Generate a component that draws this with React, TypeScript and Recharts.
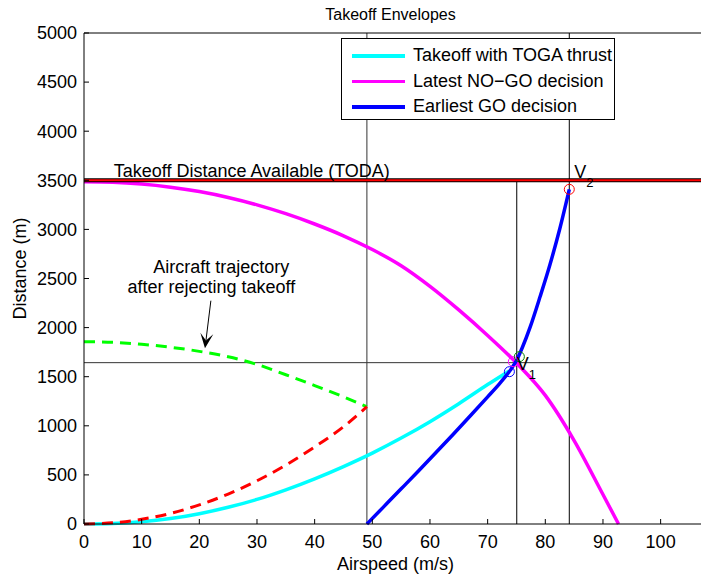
import { Legend, Line, LineChart, ReferenceDot, ReferenceLine, XAxis, YAxis } from "recharts"

// Takeoff envelopes: airspeed (m/s) vs. ground distance (m)

const xTicks = [0, 10, 20, 30, 40, 50, 60, 70, 80, 90, 100]
const yTicks = [0, 500, 1000, 1500, 2000, 2500, 3000, 3500, 4000, 4500, 5000]

// takeoff with full TOGA thrust
const togaSpeed = [0, 5, 10, 15, 20, 25, 30, 35, 40, 45, 50, 55, 60, 65, 70, 73.7]
const togaDist = [0, 5, 22, 55, 105, 170, 250, 348, 460, 585, 722, 875, 1042, 1225, 1420, 1558]

// latest point where a rejected takeoff still stops inside the runway
const noGoSpeed = [0, 5, 10, 15, 20, 25, 30, 35, 40, 45, 50, 55, 60, 65, 70, 75, 80, 85, 90, 92.7]
const noGoDist = [3485, 3480, 3462, 3430, 3385, 3325, 3250, 3160, 3055, 2935, 2795, 2630, 2420, 2180, 1920, 1640, 1310, 850, 300, 0]

// earliest point from which an engine-out takeoff still clears TODA
const goSpeed = [49.06, 52, 55, 58, 61, 64, 67, 70, 72, 73, 74, 75, 76, 77.4, 79.1, 80.8, 82.5, 84.16]
const goDist = [0, 177, 358, 540, 725, 912, 1102, 1295, 1425, 1495, 1572, 1665, 1795, 2010, 2316, 2640, 3004, 3408]

// example rejected takeoff at 49 m/s: acceleration (red) then braking (green)
const rejectSpeed = [0, 5, 10, 15, 20, 25, 30, 35, 40, 45, 49.06]
const accelDist = [0, 12, 48, 108, 195, 305, 440, 600, 785, 990, 1195]
const brakeDist = [1857, 1850, 1830, 1800, 1758, 1703, 1625, 1520, 1410, 1295, 1195]

const TODA = 3500
const REJECT_V = 49.06
const V1 = 75.05
const V1_DIST = 1643
const V2 = 84.16

const zip = (vs: number[], ds: number[]) => vs.map((v, i) => ({ v, d: ds[i] }))

const togaData = zip(togaSpeed, togaDist)
const noGoData = zip(noGoSpeed, noGoDist)
const goData = zip(goSpeed, goDist)
const accelData = zip(rejectSpeed, accelDist)
const brakeData = zip(rejectSpeed, brakeDist)

const series = [
  { name: "Takeoff with TOGA thrust", color: "#00FFFF" },
  { name: "Latest NO\u2212GO decision", color: "#FF00FF" },
  { name: "Earliest GO decision", color: "#0000FF" },
]

const FONT = "'Liberation Sans', Arial, Helvetica, sans-serif"

function LegendBox() {
  return (
    <div
      style={{
        width: 274,
        height: 82,
        boxSizing: "border-box",
        border: "1px solid #000",
        background: "#fff",
        paddingTop: 4,
        fontFamily: FONT,
        fontSize: 18,
        color: "#000",
      }}
    >
      {series.map((s) => (
        <div key={s.name} style={{ display: "flex", alignItems: "center", height: 25.5, whiteSpace: "nowrap" }}>
          <span style={{ display: "inline-block", width: 53, height: 3.5, background: s.color, marginLeft: 10, marginRight: 8 }} />
          <span>{s.name}</span>
        </div>
      ))}
    </div>
  )
}

// arrow with a notched head, drawn between the two segment ends
function ArrowShape(props: any) {
  const { x1, y1, x2, y2 } = props
  const dx = x2 - x1
  const dy = y2 - y1
  const len = Math.hypot(dx, dy) || 1
  const ux = dx / len
  const uy = dy / len
  const head = 15
  const half = 6.5
  const notch = 8
  const bx = x2 - ux * head
  const by = y2 - uy * head
  const nx = x2 - ux * notch
  const ny = y2 - uy * notch
  return (
    <g>
      <line x1={x1} y1={y1} x2={nx} y2={ny} stroke="#000" strokeWidth={1} />
      <polygon
        points={`${x2},${y2} ${bx - uy * half},${by + ux * half} ${nx},${ny} ${bx + uy * half},${by - ux * half}`}
        fill="#000"
      />
    </g>
  )
}

const textShape = (text: string, anchor: "start" | "middle" = "start") => (p: any) => (
  <text x={p.cx} y={p.cy} fontSize={18} textAnchor={anchor} fill="#000">
    {text}
  </text>
)

const speedLabel = (sub: string) => (p: any) => (
  <text x={p.cx} y={p.cy} fontSize={18} fill="#000">
    V
    <tspan dy={9} fontSize={13}>
      {sub}
    </tspan>
  </text>
)

const xLabel = {
  content: (p: any) => {
    const vb = p.viewBox ?? { x: 84, y: 524, width: 617, height: 51 }
    return (
      <text x={vb.x + vb.width / 2 + 3} y={vb.y + 46} textAnchor="middle" fontSize={18} fill="#000">
        Airspeed (m/s)
      </text>
    )
  },
}

const yLabel = {
  content: (p: any) => {
    const vb = p.viewBox ?? { x: 0, y: 0, width: 84, height: 524 }
    const cx = vb.x + 26
    const cy = vb.y + vb.height / 2 - 10
    return (
      <text x={cx} y={cy} transform={`rotate(-90, ${cx}, ${cy})`} textAnchor="middle" fontSize={18} fill="#000">
        Distance (m)
      </text>
    )
  },
}

const titleLabel = {
  content: (p: any) => {
    const vb = p.viewBox ?? { x: 84, y: 0, width: 617, height: 33 }
    return (
      <text x={vb.x + vb.width / 2 - 2} y={20} textAnchor="middle" fontSize={16} fill="#000">
        Takeoff Envelopes
      </text>
    )
  },
}

const axisStroke = { stroke: "#000", strokeWidth: 1 }

export default function App() {
  return (
    <div style={{ position: "absolute", left: 0, top: 0, fontFamily: FONT, background: "#fff" }}>
      <LineChart width={701} height={575} margin={{ top: 0, right: 0, bottom: 0, left: 0 }}>
        <XAxis
          dataKey="v"
          type="number"
          domain={[0, 107]}
          ticks={xTicks}
          interval={0}
          height={51}
          tickSize={-5}
          tickMargin={16}
          axisLine={axisStroke}
          tickLine={axisStroke}
          tick={{ fontSize: 18, fill: "#000" }}
          label={xLabel}
        />
        <XAxis
          xAxisId="top"
          orientation="top"
          type="number"
          domain={[0, 107]}
          ticks={xTicks}
          interval={0}
          height={33}
          tickSize={-5}
          axisLine={axisStroke}
          tickLine={axisStroke}
          tick={false}
          label={titleLabel}
        />
        <YAxis
          type="number"
          domain={[0, 5000]}
          ticks={yTicks}
          interval={0}
          width={84}
          tickSize={-5}
          tickMargin={12}
          axisLine={axisStroke}
          tickLine={axisStroke}
          tick={{ fontSize: 18, fill: "#000" }}
          label={yLabel}
        />

        <ReferenceLine x={REJECT_V} stroke="#333" strokeWidth={1} />
        <ReferenceLine x={V2} stroke="#000" strokeWidth={1} />
        <ReferenceLine segment={[{ x: V1, y: 0 }, { x: V1, y: TODA }]} stroke="#000" strokeWidth={1} />
        <ReferenceLine segment={[{ x: 0, y: V1_DIST }, { x: V2, y: V1_DIST }]} stroke="#333" strokeWidth={1} />

        <Line data={togaData} dataKey="d" name={series[0].name} type="monotone" stroke={series[0].color} strokeWidth={3.5} dot={false} activeDot={false} isAnimationActive={false} />
        <Line data={noGoData} dataKey="d" name={series[1].name} type="monotone" stroke={series[1].color} strokeWidth={3.5} dot={false} activeDot={false} isAnimationActive={false} />
        <Line data={goData} dataKey="d" name={series[2].name} type="monotone" stroke={series[2].color} strokeWidth={3.5} dot={false} activeDot={false} isAnimationActive={false} />
        <Line data={brakeData} dataKey="d" type="monotone" stroke="#00FF00" strokeWidth={3} strokeDasharray="11 7" dot={false} activeDot={false} legendType="none" isAnimationActive={false} />
        <Line data={accelData} dataKey="d" type="monotone" stroke="#FF0000" strokeWidth={3} strokeDasharray="11 7" dot={false} activeDot={false} legendType="none" isAnimationActive={false} />

        {/* TODA: red line with a black outline */}
        <ReferenceLine y={TODA} stroke="#000" strokeWidth={4} />
        <ReferenceLine y={TODA} stroke="#FF0000" strokeWidth={2} />

        <ReferenceDot x={73.77} y={1551} r={5} fill="none" stroke="#0000FF" strokeWidth={1} />
        <ReferenceDot x={74.46} y={1653} r={5} fill="none" stroke="#FF00FF" strokeWidth={1} />
        <ReferenceDot x={75.5} y={1704} r={5} fill="none" stroke="#008000" strokeWidth={1} />
        <ReferenceDot x={V2} y={3408} r={5} fill="none" stroke="#FF0000" strokeWidth={1} />

        <ReferenceDot x={75.05} y={1568} shape={speedLabel("1")} />
        <ReferenceDot x={85.0} y={3520} shape={speedLabel("2")} />
        <ReferenceDot x={5.15} y={3537} shape={textShape("Takeoff Distance Available (TODA)")} />
        <ReferenceDot x={23.8} y={2553} shape={textShape("Aircraft trajectory", "middle")} />
        <ReferenceDot x={22.08} y={2349} shape={textShape("after rejecting takeoff", "middle")} />
        <ReferenceLine segment={[{ x: 22.0, y: 2274 }, { x: 20.98, y: 1789 }]} shape={ArrowShape} />

        <Legend
          layout="vertical"
          align="center"
          verticalAlign="middle"
          wrapperStyle={{ left: 341, top: 38, width: "auto" }}
          content={() => <LegendBox />}
        />
      </LineChart>
    </div>
  )
}
